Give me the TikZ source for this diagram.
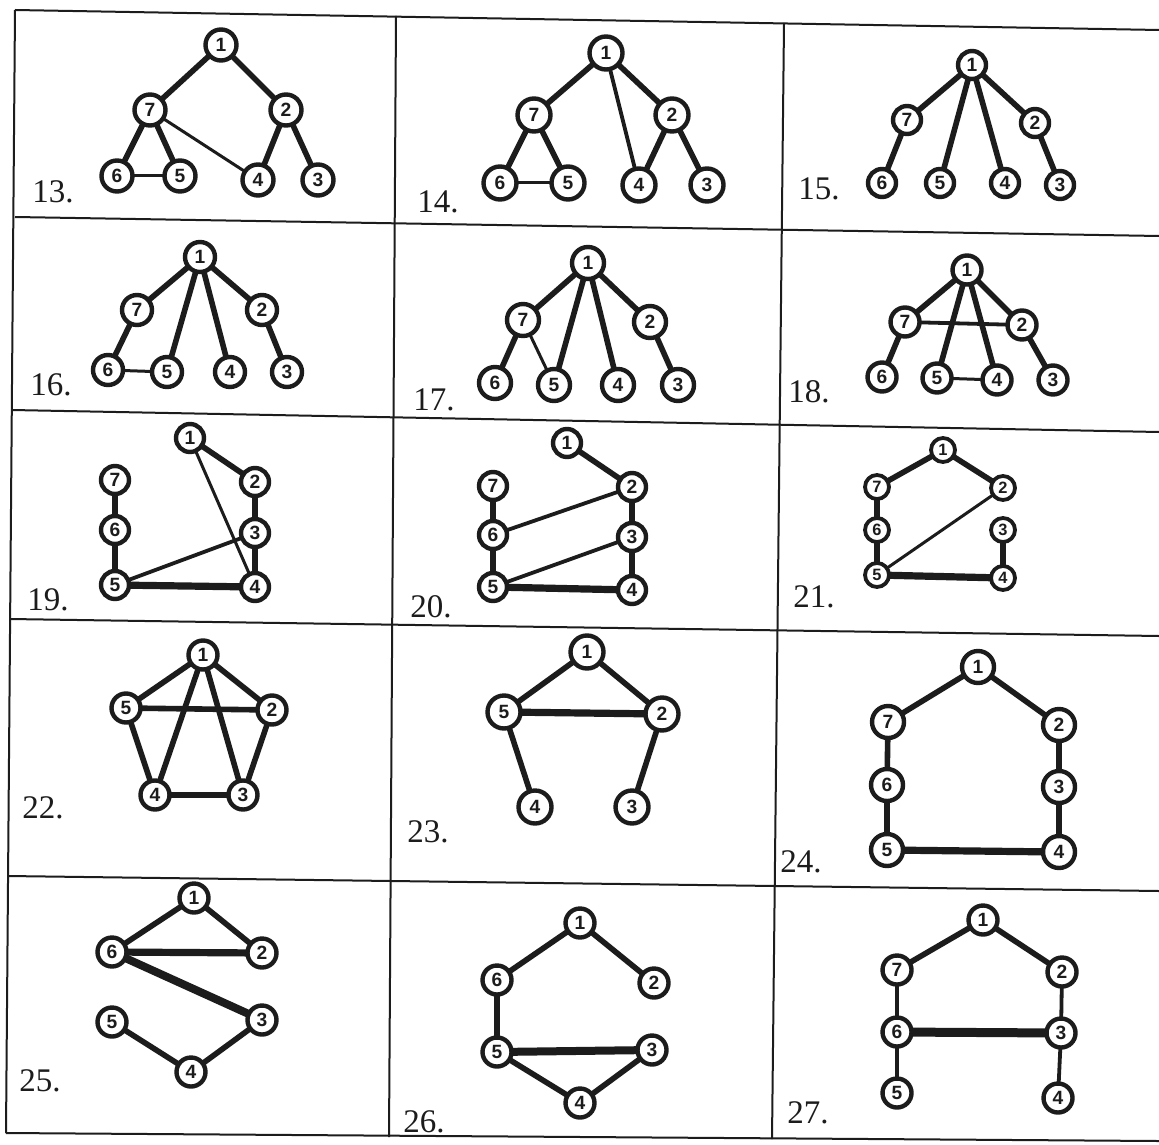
\documentclass[tikz,border=0pt]{standalone}
\usepackage{fontspec}
\setmainfont{Liberation Serif}
\setsansfont{Liberation Sans}
\definecolor{ink}{HTML}{1C1C1C}
\tikzset{
 vert/.style={circle, draw=ink, fill=white, line width=2.2pt, inner sep=0pt, minimum size=#1, text=ink, font=\sffamily\bfseries\fontsize{9.6}{9.6}\selectfont},
 vsm/.style={vert=#1, font=\sffamily\bfseries\fontsize{8.2}{8.2}\selectfont, line width=1.9pt},
 edg/.style={draw=ink, shorten <=-1.5pt, shorten >=-1.5pt},
 thk/.style={edg, line width=2.8pt},
 thn/.style={edg, line width=1.5pt},
 med/.style={edg, line width=1.9pt},
 bld/.style={edg, line width=3.6pt},
 rule/.style={draw=ink, line width=1pt},
 lab/.style={anchor=base west, inner sep=0pt, text=ink, font=\fontsize{16.5}{16.5}\selectfont},
}
\begin{document}
\begin{tikzpicture}[x=0.5pt, y=-0.5pt]
\useasboundingbox[fill=white] (0,0) rectangle (1159,1144);
% grid
\draw[rule] (15,10) -- (1159,30);
\draw[rule] (15,217) -- (1159,236);
\draw[rule] (12,410) -- (1159,432);
\draw[rule] (10,619) -- (1159,636);
\draw[rule] (8,876) -- (1159,891);
\draw[rule] (6,1133) -- (1159,1141);
\draw[rule] (15,10) -- (6,1133);
\draw[rule] (396,16) -- (389,1137);
\draw[rule] (784,23) -- (772,1139);

% labels
\node[lab] (l13) at (32,203) {13.};
\node[lab] (l14) at (417,213) {14.};
\node[lab] (l15) at (798,200) {15.};
\node[lab] (l16) at (30,395) {16.};
\node[lab] (l17) at (413,410) {17.};
\node[lab] (l18) at (788,402) {18.};
\node[lab] (l19) at (27,610) {19.};
\node[lab] (l20) at (410,617) {20.};
\node[lab] (l21) at (793,607) {21.};
\node[lab] (l22) at (22,818) {22.};
\node[lab] (l23) at (407,842) {23.};
\node[lab] (l24) at (780,872) {24.};
\node[lab] (l25) at (19,1091) {25.};
\node[lab] (l26) at (403,1132) {26.};
\node[lab] (l27) at (787,1123) {27.};

% 13
\node[vert=15.5pt] (a1) at (221,45) {1};
\node[vert=15.5pt] (a7) at (150,110) {7};
\node[vert=15.5pt] (a2) at (286,110) {2};
\node[vert=15.5pt] (a6) at (117,176) {6};
\node[vert=15.5pt] (a5) at (180,176) {5};
\node[vert=15.5pt] (a4) at (258,180) {4};
\node[vert=15.5pt] (a3) at (318,180) {3};
\draw[thk] (a1) -- (a7); \draw[thk] (a1) -- (a2);
\draw[thk] (a7) -- (a6); \draw[thk] (a7) -- (a5);
\draw[thn] (a7) -- (a4); \draw[thn] (a6) -- (a5);
\draw[thk] (a2) -- (a4); \draw[thk] (a2) -- (a3);

% 14
\node[vert=16.5pt] (b1) at (606,53) {1};
\node[vert=16.5pt] (b7) at (534,115) {7};
\node[vert=16.5pt] (b2) at (672,115) {2};
\node[vert=16.5pt] (b6) at (500,183) {6};
\node[vert=16.5pt] (b5) at (568,183) {5};
\node[vert=16.5pt] (b4) at (639,185) {4};
\node[vert=16.5pt] (b3) at (707,185) {3};
\draw[thk] (b1) -- (b7); \draw[thk] (b1) -- (b2);
\draw[med] (b1) -- (b4);
\draw[thk] (b7) -- (b6); \draw[thk] (b7) -- (b5);
\draw[thn] (b6) -- (b5);
\draw[thk] (b2) -- (b4); \draw[thk] (b2) -- (b3);

% 15
\node[vert=14pt] (c1) at (972,65) {1};
\node[vert=14pt] (c7) at (907,120) {7};
\node[vert=14pt] (c2) at (1035,123) {2};
\node[vert=14pt] (c6) at (882,183) {6};
\node[vert=14pt] (c5) at (940,183) {5};
\node[vert=14pt] (c4) at (1005,183) {4};
\node[vert=14pt] (c3) at (1060,185) {3};
\draw[thk] (c1) -- (c7); \draw[thk] (c1) -- (c2);
\draw[thk] (c1) -- (c5); \draw[thk] (c1) -- (c4);
\draw[thk] (c7) -- (c6); \draw[thk] (c2) -- (c3);

% 16
\node[vert=15pt] (d1) at (200,257) {1};
\node[vert=15pt] (d7) at (137,310) {7};
\node[vert=15pt] (d2) at (262,310) {2};
\node[vert=15pt] (d6) at (108,370) {6};
\node[vert=15pt] (d5) at (167,372) {5};
\node[vert=15pt] (d4) at (230,372) {4};
\node[vert=15pt] (d3) at (287,372) {3};
\draw[thk] (d1) -- (d7); \draw[thk] (d1) -- (d2);
\draw[thk] (d1) -- (d5); \draw[thk] (d1) -- (d4);
\draw[thk] (d7) -- (d6); \draw[thk] (d2) -- (d3);
\draw[thn] (d6) -- (d5);

% 17
\node[vert=16pt] (e1) at (588,263) {1};
\node[vert=16pt] (e7) at (523,320) {7};
\node[vert=16pt] (e2) at (650,322) {2};
\node[vert=16pt] (e6) at (495,383) {6};
\node[vert=16pt] (e5) at (554,385) {5};
\node[vert=16pt] (e4) at (618,385) {4};
\node[vert=16pt] (e3) at (678,385) {3};
\draw[thk] (e1) -- (e7); \draw[thk] (e1) -- (e2);
\draw[thk] (e1) -- (e5); \draw[thk] (e1) -- (e4);
\draw[thk] (e7) -- (e6); \draw[thk] (e2) -- (e3);
\draw[thn] (e7) -- (e5);

% 18
\node[vert=14.5pt] (f1) at (967,270) {1};
\node[vert=14.5pt] (f7) at (905,322) {7};
\node[vert=14.5pt] (f2) at (1022,325) {2};
\node[vert=14.5pt] (f6) at (882,377) {6};
\node[vert=14.5pt] (f5) at (937,378) {5};
\node[vert=14.5pt] (f4) at (997,380) {4};
\node[vert=14.5pt] (f3) at (1053,380) {3};
\draw[thk] (f1) -- (f7); \draw[thk] (f1) -- (f2);
\draw[thk] (f1) -- (f5); \draw[thk] (f1) -- (f4);
\draw[thk] (f7) -- (f6); \draw[thk] (f2) -- (f3);
\draw[med] (f7) -- (f2); \draw[thn] (f5) -- (f4);

% 19
\node[vert=14pt] (g1) at (190,438) {1};
\node[vert=14pt] (g7) at (115,480) {7};
\node[vert=14pt] (g2) at (255,482) {2};
\node[vert=14pt] (g6) at (115,530) {6};
\node[vert=14pt] (g3) at (255,533) {3};
\node[vert=14pt] (g5) at (115,585) {5};
\node[vert=14pt] (g4) at (255,587) {4};
\draw[thk] (g1) -- (g2); \draw[thn] (g1) -- (g4);
\draw[thk] (g7) -- (g6); \draw[thk] (g6) -- (g5);
\draw[thk] (g2) -- (g3); \draw[thk] (g3) -- (g4);
\draw[med] (g3) -- (g5); \draw[bld] (g5) -- (g4);

% 20
\node[vert=14pt] (h1) at (567,443) {1};
\node[vert=14pt] (h7) at (493,486) {7};
\node[vert=14pt] (h2) at (632,487) {2};
\node[vert=14pt] (h6) at (493,535) {6};
\node[vert=14pt] (h3) at (632,537) {3};
\node[vert=14pt] (h5) at (493,587) {5};
\node[vert=14pt] (h4) at (632,590) {4};
\draw[thk] (h1) -- (h2);
\draw[thk] (h7) -- (h6); \draw[thk] (h6) -- (h5);
\draw[thk] (h2) -- (h3); \draw[thk] (h3) -- (h4);
\draw[med] (h6) -- (h2); \draw[med] (h5) -- (h3);
\draw[bld] (h5) -- (h4);

% 21
\node[vsm=12pt] (i1) at (943,450) {1};
\node[vsm=12pt] (i7) at (877,487) {7};
\node[vsm=12pt] (i2) at (1003,488) {2};
\node[vsm=12pt] (i6) at (877,530) {6};
\node[vsm=12pt] (i3) at (1003,530) {3};
\node[vsm=12pt] (i5) at (877,575) {5};
\node[vsm=12pt] (i4) at (1003,578) {4};
\draw[thk] (i1) -- (i7); \draw[thk] (i1) -- (i2);
\draw[thk] (i7) -- (i6); \draw[thk] (i6) -- (i5);
\draw[thk] (i3) -- (i4); \draw[bld] (i5) -- (i4);
\draw[thn] (i2) -- (i5);

% 22
\node[vert=14.5pt] (j1) at (203,655) {1};
\node[vert=14.5pt] (j5) at (126,708) {5};
\node[vert=14.5pt] (j2) at (272,710) {2};
\node[vert=14.5pt] (j4) at (155,795) {4};
\node[vert=14.5pt] (j3) at (243,795) {3};
\draw[thk] (j1) -- (j5); \draw[thk] (j1) -- (j2);
\draw[thk] (j5) -- (j2); \draw[thk] (j5) -- (j4);
\draw[thk] (j1) -- (j4); \draw[thk] (j1) -- (j3);
\draw[thk] (j2) -- (j3); \draw[thk] (j4) -- (j3);

% 23
\node[vert=16.5pt] (k1) at (587,652) {1};
\node[vert=16.5pt] (k5) at (504,712) {5};
\node[vert=16.5pt] (k2) at (662,714) {2};
\node[vert=16.5pt] (k4) at (535,807) {4};
\node[vert=16.5pt] (k3) at (632,807) {3};
\draw[thk] (k1) -- (k5); \draw[thk] (k1) -- (k2);
\draw[bld] (k5) -- (k2);
\draw[thk] (k5) -- (k4); \draw[thk] (k2) -- (k3);

% 24
\node[vert=16pt] (m1) at (978,667) {1};
\node[vert=16pt] (m7) at (888,722) {7};
\node[vert=16pt] (m2) at (1059,725) {2};
\node[vert=16pt] (m6) at (887,785) {6};
\node[vert=16pt] (m3) at (1059,787) {3};
\node[vert=16pt] (m5) at (887,850) {5};
\node[vert=16pt] (m4) at (1059,852) {4};
\draw[thk] (m1) -- (m7); \draw[thk] (m1) -- (m2);
\draw[thk] (m7) -- (m6); \draw[thk] (m6) -- (m5);
\draw[thk] (m2) -- (m3); \draw[thk] (m3) -- (m4);
\draw[bld] (m5) -- (m4);

% 25
\node[vert=14.5pt] (n1) at (194,898) {1};
\node[vert=14.5pt] (n6) at (112,952) {6};
\node[vert=14.5pt] (n2) at (262,953) {2};
\node[vert=14.5pt] (n5) at (112,1022) {5};
\node[vert=14.5pt] (n3) at (262,1020) {3};
\node[vert=14.5pt] (n4) at (191,1072) {4};
\draw[thk] (n6) -- (n1); \draw[thk] (n1) -- (n2);
\draw[bld] (n6) -- (n2); \draw[bld, line width=4pt] (n6) -- (n3);
\draw[thk] (n5) -- (n4); \draw[thk] (n4) -- (n3);

% 26
\node[vert=14.5pt] (p1) at (580,923) {1};
\node[vert=14.5pt] (p6) at (497,980) {6};
\node[vert=14.5pt] (p2) at (654,983) {2};
\node[vert=14.5pt] (p5) at (497,1052) {5};
\node[vert=14.5pt] (p3) at (652,1050) {3};
\node[vert=14.5pt] (p4) at (580,1103) {4};
\draw[thk] (p6) -- (p1); \draw[thk] (p1) -- (p2);
\draw[thk] (p6) -- (p5); \draw[bld, line width=4pt] (p5) -- (p3);
\draw[thk] (p5) -- (p4); \draw[thk] (p4) -- (p3);

% 27
\node[vert=14.5pt] (q1) at (983,920) {1};
\node[vert=14.5pt] (q7) at (897,970) {7};
\node[vert=14.5pt] (q2) at (1062,972) {2};
\node[vert=14.5pt] (q6) at (897,1032) {6};
\node[vert=14.5pt] (q3) at (1061,1033) {3};
\node[vert=14.5pt] (q5) at (897,1093) {5};
\node[vert=14.5pt] (q4) at (1058,1098) {4};
\draw[thk] (q1) -- (q7); \draw[thk] (q1) -- (q2);
\draw[med] (q7) -- (q6); \draw[med] (q6) -- (q5);
\draw[med] (q2) -- (q3); \draw[med] (q3) -- (q4);
\draw[bld, line width=4.5pt] (q6) -- (q3);
\end{tikzpicture}
\end{document}
